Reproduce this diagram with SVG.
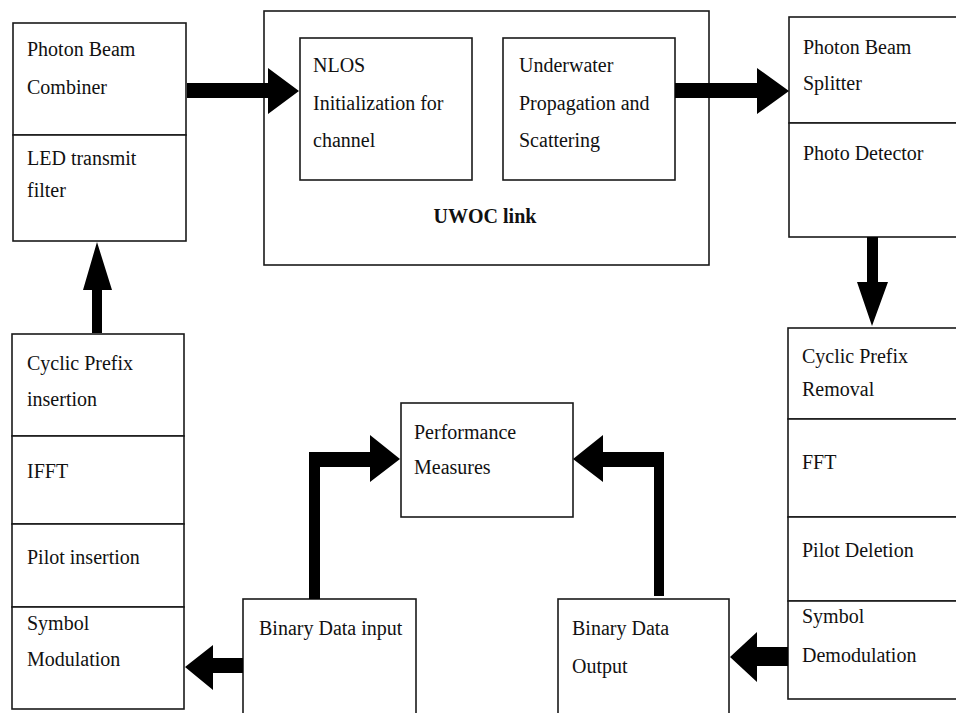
<svg xmlns="http://www.w3.org/2000/svg" width="956" height="713" viewBox="0 0 956 713">
<style>
  .box { fill: #ffffff; stroke: #1a1a1a; stroke-width: 1.6; }
  .lbl { font-family: "Liberation Serif", "Times New Roman", serif; font-size: 20px; fill: #111111; }
  .bold { font-weight: bold; }
  .arr { fill: #000000; stroke: none; }
</style>
<rect x="0" y="0" width="956" height="713" fill="#ffffff"/>

<g id="uwoc-link">
  <rect class="box" x="264" y="11" width="445" height="254"/>
  <text class="lbl bold" x="485" y="223" text-anchor="middle">UWOC link</text>
</g>
<g id="nlos">
  <rect class="box" x="300" y="38" width="172" height="142"/>
  <text class="lbl" x="313" y="72">NLOS</text>
  <text class="lbl" x="313" y="110">Initialization for</text>
  <text class="lbl" x="313" y="147">channel</text>
</g>
<g id="underwater">
  <rect class="box" x="503" y="38" width="172" height="142"/>
  <text class="lbl" x="519" y="72">Underwater</text>
  <text class="lbl" x="519" y="110">Propagation and</text>
  <text class="lbl" x="519" y="147">Scattering</text>
</g>

<g id="beam-combiner">
  <rect class="box" x="13" y="23" width="173" height="112"/>
  <text class="lbl" x="27" y="56">Photon Beam</text>
  <text class="lbl" x="27" y="94">Combiner</text>
</g>
<g id="led-filter">
  <rect class="box" x="13" y="135" width="173" height="106"/>
  <text class="lbl" x="27" y="165">LED transmit</text>
  <text class="lbl" x="27" y="197">filter</text>
</g>

<g id="beam-splitter">
  <rect class="box" x="789" y="17" width="190" height="106"/>
  <text class="lbl" x="803" y="54">Photon Beam</text>
  <text class="lbl" x="803" y="90">Splitter</text>
</g>
<g id="photo-detector">
  <rect class="box" x="789" y="123" width="190" height="114"/>
  <text class="lbl" x="803" y="160">Photo Detector</text>
</g>

<g id="cp-insertion">
  <rect class="box" x="12" y="334" width="172" height="102"/>
  <text class="lbl" x="27" y="370">Cyclic Prefix</text>
  <text class="lbl" x="27" y="406">insertion</text>
</g>
<g id="ifft">
  <rect class="box" x="12" y="436" width="172" height="88"/>
  <text class="lbl" x="27" y="478">IFFT</text>
</g>
<g id="pilot-insertion">
  <rect class="box" x="12" y="524" width="172" height="83"/>
  <text class="lbl" x="27" y="564">Pilot insertion</text>
</g>
<g id="symbol-modulation">
  <rect class="box" x="12" y="607" width="172" height="102"/>
  <text class="lbl" x="27" y="630">Symbol</text>
  <text class="lbl" x="27" y="666">Modulation</text>
</g>

<g id="cp-removal">
  <rect class="box" x="788" y="328" width="190" height="91"/>
  <text class="lbl" x="802" y="363">Cyclic Prefix</text>
  <text class="lbl" x="802" y="396">Removal</text>
</g>
<g id="fft">
  <rect class="box" x="788" y="419" width="190" height="98"/>
  <text class="lbl" x="802" y="469">FFT</text>
</g>
<g id="pilot-deletion">
  <rect class="box" x="788" y="517" width="190" height="84"/>
  <text class="lbl" x="802" y="557">Pilot Deletion</text>
</g>
<g id="symbol-demodulation">
  <rect class="box" x="788" y="601" width="190" height="98"/>
  <text class="lbl" x="802" y="623">Symbol</text>
  <text class="lbl" x="802" y="662">Demodulation</text>
</g>

<g id="performance">
  <rect class="box" x="401" y="403" width="172" height="114"/>
  <text class="lbl" x="414" y="439">Performance</text>
  <text class="lbl" x="414" y="474">Measures</text>
</g>
<g id="binary-input">
  <rect class="box" x="243" y="599" width="173" height="130"/>
  <text class="lbl" x="259" y="635">Binary Data input</text>
</g>
<g id="binary-output">
  <rect class="box" x="558" y="599" width="171" height="130"/>
  <text class="lbl" x="572" y="635">Binary Data</text>
  <text class="lbl" x="572" y="673">Output</text>
</g>

<g id="connectors">
  <polygon class="arr" points="187,83 268,83 268,68 299,91 268,114 268,98 187,98"/>
  <polygon class="arr" points="675,83 757,83 757,68 789,91 757,114 757,98 675,98"/>
  <polygon class="arr" points="867,237 878,237 878,282 888,282 872,326 857,282 867,282"/>
  <polygon class="arr" points="788,647 757,647 757,632 730,657 757,682 757,666 788,666"/>
  <polygon class="arr" points="243,658 213,658 213,645 185,667 213,690 213,673 243,673"/>
  <polygon class="arr" points="309,599 309,452 370,452 370,435 400,459 370,482 370,467 320,467 320,599"/>
  <polygon class="arr" points="664,596 664,452 603,452 603,435 573,459 603,482 603,467 654,467 654,596"/>
  <polygon class="arr" points="92,333 92,290 83,290 97,242 112,290 102,290 102,333"/>
</g>
</svg>
